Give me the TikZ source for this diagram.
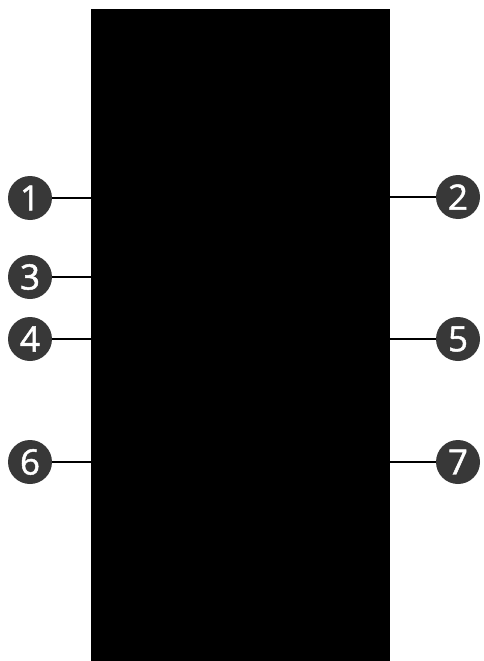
\documentclass[tikz,border=0pt]{standalone}
\usepackage{fontspec}
\setmainfont{Open Sans}
\newfontfamily\numfont{Open Sans}[FakeBold=1.4]
\usepackage{tikz}
\usetikzlibrary{positioning}
\definecolor{numgray}{HTML}{383838}

\begin{document}
\begin{tikzpicture}[x=1pt,y=-1pt,
  num/.style={circle,fill=numgray,text=white,minimum size=44pt,inner sep=0pt,font=\numfont\fontsize{35}{35}\selectfont},
  lead/.style={line width=2pt}]
\useasboundingbox (0,0) rectangle (483,661);
\node[fill=black,minimum width=299pt,minimum height=653pt,inner sep=0pt,anchor=north west] (box) at (91,9) {};
\node[num] (n1) at (30,198) {1};
\node[num] (n2) at (458,197) {2};
\node[num] (n3) at (30,277) {3};
\node[num] (n4) at (30,339) {4};
\node[num] (n5) at (458,339) {5};
\node[num] (n6) at (30,462) {6};
\node[num] (n7) at (458,462) {7};
\draw[lead] (n1) -- (n1 -| box.west);
\draw[lead] (n3) -- (n3 -| box.west);
\draw[lead] (n4) -- (n4 -| box.west);
\draw[lead] (n6) -- (n6 -| box.west);
\draw[lead] (n2) -- (n2 -| box.east);
\draw[lead] (n5) -- (n5 -| box.east);
\draw[lead] (n7) -- (n7 -| box.east);
\end{tikzpicture}
\end{document}
